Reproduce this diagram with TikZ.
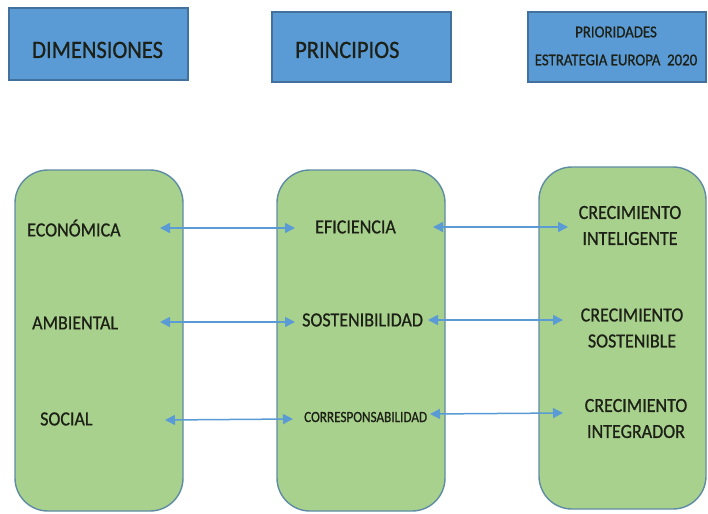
\documentclass[tikz,border=0pt]{standalone}
\usepackage{fontspec}
\setmainfont{Carlito}
\newfontfamily\condfont[FakeStretch=0.9,FakeBold=0.8]{Carlito}
\newfontfamily\narrowfont[FakeStretch=0.85,FakeBold=0.8]{Carlito}
\usetikzlibrary{arrows.meta}
\definecolor{hdrfill}{HTML}{5B9BD5}
\definecolor{hdrline}{HTML}{41719C}
\definecolor{gfill}{HTML}{A9D18E}
\definecolor{gline}{HTML}{5F8CA3}
\definecolor{arrowblue}{HTML}{5B9BD5}
\definecolor{txt}{HTML}{1C2016}
\begin{document}
\begin{tikzpicture}[x=1pt,y=-1pt,
  hdrbox/.style={draw=hdrline,fill=hdrfill,line width=1.3pt,inner sep=0pt},
  greenbox/.style={draw=gline,fill=gfill,line width=1.4pt,rounded corners=33pt,inner sep=0pt,minimum width=168pt,minimum height=341pt},
  hdrtext/.style={text=txt,inner sep=0pt,font=\condfont\fontsize{25}{30}\selectfont},
  lbl/.style={text=txt,inner sep=0pt,font=\condfont\fontsize{20}{26}\selectfont},
  smalllbl/.style={text=txt,inner sep=0pt,font=\narrowfont\fontsize{15.5}{18}\selectfont},
  twoline/.style={text=txt,inner sep=0pt,align=center,font=\condfont\fontsize{20}{26}\selectfont},
  link/.style={draw=arrowblue,line width=1.5pt,{Triangle[length=10pt,width=10pt]}-{Triangle[length=10pt,width=10pt]}}]
\useasboundingbox (0,0) rectangle (708,513);
\fill[white] (0,0) rectangle (708,513);
% header boxes
\node[hdrbox,minimum width=179pt,minimum height=72pt] (h1) at (98.5,44) {};
\node[hdrbox,minimum width=179pt,minimum height=70pt] (h2) at (361.5,47) {};
\node[hdrbox,minimum width=178pt,minimum height=70pt] (h3) at (617,47) {};
\node[hdrtext,anchor=base west] (h1t) at (32,58) {DIMENSIONES};
\node[hdrtext,anchor=base west] (h2t) at (295,58) {PRINCIPIOS};
\node[text=txt,inner sep=0pt,align=center,font=\condfont\fontsize{16.5}{28}\selectfont] (h3t) at (616,46) {PRIORIDADES\\ESTRATEGIA EUROPA\ \ 2020};
% green boxes
\node[greenbox] (g1) at (99,340.5) {};
\node[greenbox] (g2) at (361,340.5) {};
\node[greenbox,minimum width=167pt,minimum height=342pt] (g3) at (622.5,338) {};
% left labels
\node[lbl,anchor=base west] (eco) at (27,236.4) {ECONÓMICA};
\node[lbl,anchor=base west] (amb) at (32,329.4) {AMBIENTAL};
\node[lbl,anchor=base west] (soc) at (40,425.4) {SOCIAL};
% middle labels
\node[lbl,anchor=base west] (efi) at (315,233.4) {EFICIENCIA};
\node[lbl,anchor=base west] (sos) at (302,326.4) {SOSTENIBILIDAD};
\node[smalllbl,anchor=base west] (cor) at (304,422) {CORRESPONSABILIDAD};
% right labels
\node[twoline] (int) at (630,225.5) {CRECIMIENTO\\INTELIGENTE};
\node[twoline] (sst) at (632,328) {CRECIMIENTO\\SOSTENIBLE};
\node[twoline] (itg) at (636,418.5) {CRECIMIENTO\\INTEGRADOR};
% arrow end points
\coordinate (a1l) at (160,228);
\coordinate (a1m) at (295,228);
\coordinate (b1m) at (433,227);
\coordinate (b1r) at (568,227);
\coordinate (a2l) at (160,322);
\coordinate (a2m) at (295,322);
\coordinate (b2m) at (428,320);
\coordinate (b2r) at (563,320);
\coordinate (a3l) at (165,420);
\coordinate (a3m) at (293,419);
\coordinate (b3m) at (430,414);
\coordinate (b3r) at (563,413);
\draw[link] (a1l) -- (a1m);
\draw[link] (b1m) -- (b1r);
\draw[link] (a2l) -- (a2m);
\draw[link] (b2m) -- (b2r);
\draw[link] (a3l) -- (a3m);
\draw[link] (b3m) -- (b3r);
\end{tikzpicture}
\end{document}
